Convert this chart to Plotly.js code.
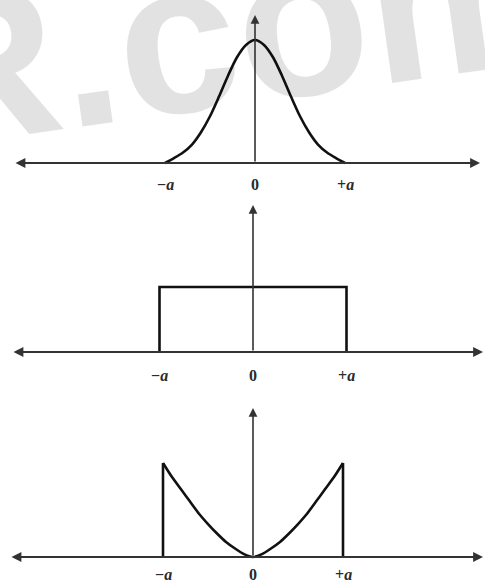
<!DOCTYPE html>
<html>
<head>
<meta charset="utf-8">
<script src="https://cdn.plot.ly/plotly-3.0.1.min.js"></script>
<style>html,body{margin:0;padding:0;background:#fff;}#chart{width:485px;height:581px;}</style>
</head>
<body>
<div id="chart"></div>
<script>
// ---- data (x in units of a, y relative to panel height) ----
const tickPositions = [-1, 0, 1];
const tickLabels = ["\u2212<i>a</i>", "0", "+<i>a</i>"];

const gaussX = [-1, -0.95, -0.9, -0.8, -0.7, -0.6, -0.5, -0.4, -0.3, -0.2, -0.1, 0, 0.1, 0.2, 0.3, 0.4, 0.5, 0.6, 0.7, 0.8, 0.9, 0.95, 1];
const gaussY = [0.0, 0.02, 0.04, 0.085, 0.15, 0.25, 0.38, 0.54, 0.71, 0.86, 0.96, 1, 0.96, 0.86, 0.71, 0.54, 0.38, 0.25, 0.15, 0.085, 0.04, 0.02, 0.0];

const rectX = [-1, -1, 1, 1];
const rectY = [0, 1, 1, 0];

const uX = [-1, -1, -0.9, -0.8, -0.7, -0.6, -0.5, -0.4, -0.3, -0.2, -0.1, 0, 0.1, 0.2, 0.3, 0.4, 0.5, 0.6, 0.7, 0.8, 0.9, 1, 1];
const uY = [0, 1, 0.85, 0.72, 0.59, 0.46, 0.35, 0.25, 0.16, 0.09, 0.03, 0, 0.03, 0.09, 0.16, 0.25, 0.35, 0.46, 0.59, 0.72, 0.85, 1, 0];

// ---- geometry (pixels) ----
const W = 485, H = 581;
const panels = [
  {cx: 255, a: 90,   base: 163, unit: 123, top: 2,   bottom: 198, left: 14, right: 480, tip: 15,  lab: 22},
  {cx: 253, a: 93.5, base: 352, unit: 65,  top: 200, bottom: 392, left: 12, right: 483, tip: 205, lab: 23},
  {cx: 253, a: 90,   base: 557, unit: 94,  top: 400, bottom: 581, left: 10, right: 483, tip: 408, lab: 17}
];

const layout = {
  width: W, height: H,
  margin: {l: 0, r: 0, t: 0, b: 0},
  paper_bgcolor: '#fff', plot_bgcolor: 'rgba(0,0,0,0)',
  showlegend: false,
  annotations: [],
  shapes: []
};

const axisColor = '#333';
panels.forEach((p, i) => {
  const n = i === 0 ? '' : String(i + 1);
  const px2x = v => (v - p.cx) / p.a;
  const px2y = v => (p.base - v) / p.unit;
  layout['xaxis' + n] = {
    domain: [0, 1], range: [px2x(0), px2x(W)],
    visible: false, fixedrange: true, anchor: 'y' + n
  };
  layout['yaxis' + n] = {
    domain: [1 - p.bottom / H, 1 - p.top / H],
    range: [px2y(p.bottom), px2y(p.top)],
    visible: false, fixedrange: true, anchor: 'x' + n
  };
  const xr = 'x' + n, yr = 'y' + n;
  layout.annotations.push({
    xref: xr, yref: yr, axref: xr, ayref: yr,
    x: px2x(p.right), y: 0, ax: px2x(p.left), ay: 0,
    showarrow: true, arrowside: 'end+start', arrowhead: 2, arrowsize: 1.1,
    arrowwidth: 1.8, arrowcolor: axisColor, standoff: 0, startstandoff: 0, text: ''
  });
  layout.annotations.push({
    xref: xr, yref: yr, axref: xr, ayref: yr,
    x: 0, y: px2y(p.tip), ax: 0, ay: 0,
    showarrow: true, arrowhead: 2, arrowsize: 1.1,
    arrowwidth: 1.6, arrowcolor: axisColor, standoff: 0, text: ''
  });
  tickPositions.forEach((t, k) => {
    layout.annotations.push({
      xref: xr, yref: yr, x: t, y: -p.lab / p.unit,
      text: tickLabels[k], showarrow: false,
      xanchor: 'center', yanchor: 'middle',
      font: {family: 'Liberation Serif, serif', size: 16, color: '#2a2a2a', weight: 'bold'}
    });
  });
});

// watermark (semi-transparent so the dark lines stay dark)
layout.annotations.unshift({
  xref: 'paper', yref: 'paper', x: 230 / W, y: 1 - 30 / H,
  text: '<b>R.com</b>', showarrow: false, textangle: -8,
  xanchor: 'center', yanchor: 'middle',
  font: {family: 'Liberation Sans, Arial, sans-serif', size: 216, color: 'rgba(0,0,0,0.115)'}
});

const curveLine = {color: '#111', width: 2.6};
const last = uX.length - 1;
const data = [
  {x: gaussX, y: gaussY, xaxis: 'x', yaxis: 'y', type: 'scatter', mode: 'lines',
   line: Object.assign({shape: 'spline', smoothing: 0.8}, curveLine), hoverinfo: 'skip'},
  {x: rectX, y: rectY, xaxis: 'x2', yaxis: 'y2', type: 'scatter', mode: 'lines',
   line: curveLine, hoverinfo: 'skip'},
  {x: uX.slice(1, last), y: uY.slice(1, last), xaxis: 'x3', yaxis: 'y3', type: 'scatter', mode: 'lines',
   line: Object.assign({shape: 'spline', smoothing: 0.6}, curveLine), hoverinfo: 'skip'},
  {x: [uX[0], uX[1], null, uX[last - 1], uX[last]], y: [uY[0], uY[1], null, uY[last - 1], uY[last]],
   xaxis: 'x3', yaxis: 'y3', type: 'scatter', mode: 'lines', line: curveLine, hoverinfo: 'skip'}
];

Plotly.newPlot('chart', data, layout, {displayModeBar: false, staticPlot: true});
</script>
</body>
</html>
